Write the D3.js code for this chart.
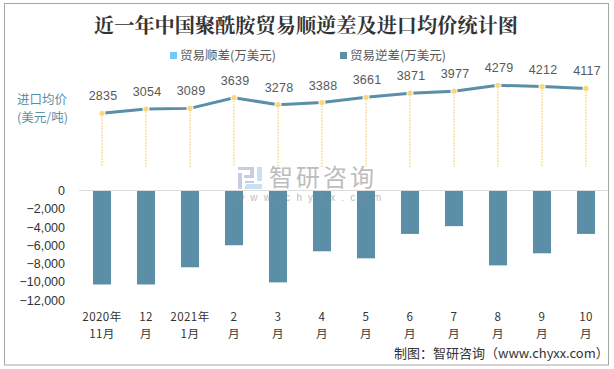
<!DOCTYPE html>
<html>
<head>
<meta charset="utf-8">
<script src="https://cdn.jsdelivr.net/npm/d3@7"></script>
<style>
body { margin: 0; background: #fff; }
text { font-family: "Noto Sans CJK SC", sans-serif; }
</style>
</head>
<body>
<svg></svg>
<script>
const months = ['2020年11月', '12月', '2021年1月', '2月', '3月', '4月', '5月', '6月', '7月', '8月', '9月', '10月'];
const monthLines = [['2020年', '11月'], ['12', '月'], ['2021年', '1月'], ['2', '月'], ['3', '月'], ['4', '月'], ['5', '月'], ['6', '月'], ['7', '月'], ['8', '月'], ['9', '月'], ['10', '月']];
const deficit = [-10280, -10280, -8400, -5990, -10050, -6650, -7420, -4750, -3900, -8190, -6870, -4750];
const price = [2835, 3054, 3089, 3639, 3278, 3388, 3661, 3871, 3977, 4279, 4212, 4117];
const barTicks = [0, -2000, -4000, -6000, -8000, -10000, -12000];

const Width = 614;
const Height = 369;
const lineColor = '#5b8fa8';
const dotColor = '#f9d77e';

const svg = d3.select('svg')
.attr('width', Width)
.attr('height', Height)
.style('display', 'block');

// Frame
svg.append('rect')
.attr('x', 4.5).attr('y', 3.5)
.attr('width', 604).attr('height', 361.5)
.attr('fill', '#fff')
.attr('stroke', '#a6a6a6');

//Create Scales
const xScale = d3.scaleBand().domain(months).range([80, 608]).paddingInner(0.59).paddingOuter(0.295);
const yBar = d3.scaleLinear().domain([-12000, 0]).range([300.2, 190.5]);
const yPrice = d3.scaleLinear().domain([2835, 4279]).range([113.3, 85.3]);
const center = (d) => xScale(d) + xScale.bandwidth() / 2;

//Draw Bars
svg.selectAll('.bar')
.data(deficit)
.enter()
.append('rect')
.classed('bar', true)
.attr('x', (d, i) => xScale(months[i]))
.attr('y', yBar(0))
.attr('width', xScale.bandwidth())
.attr('height', (d) => yBar(d) - yBar(0))
.attr('fill', lineColor);

// Zero line
svg.append('line')
.attr('x1', 79).attr('x2', 608)
.attr('y1', yBar(0)).attr('y2', yBar(0))
.attr('stroke', '#dcdcdc');

// Watermark, sits over the bars
const mark = svg.append('g');
mark.append('text').text('智研咨询')
.attr('x', 269).attr('y', 186)
.attr('font-size', 24).attr('letter-spacing', 3)
.attr('fill', '#bdbdbd');
mark.append('text').text('www.chyxx.com')
.attr('x', 237).attr('y', 201)
.attr('font-size', 10).attr('letter-spacing', 6.1)
.style('font-family', '"Liberation Sans"')
.attr('fill', '#8a8a8a')
.attr('fill-opacity', 0.6);
mark.append('path')
.attr('d', 'M238 167h16v11h-10v-3h6v-5h-12z M238 173h4v16h-4z M245 181h9v2h-9z M245 186h9v3h-9z')
.attr('fill', '#c6cde2');
mark.append('path')
.attr('d', 'M257 167h5v13h-5z M246 184h16v-3h-5v-1h5v9h-16z')
.attr('fill', '#c6e2f4');

//Draw Y-axis labels
const yAxis = svg.append('g')
.attr('transform', 'translate(65, 0)')
.call(d3.axisLeft(yBar).tickValues(barTicks).tickSize(0).tickPadding(0).tickFormat(d3.format(',')));
yAxis.select('.domain').remove();
yAxis.selectAll('text')
.attr('font-size', 12.5)
.attr('fill', '#333')
.style('font-family', '"Liberation Sans"');

//Draw X-axis labels
const xLabels = svg.selectAll('.month')
.data(monthLines)
.enter()
.append('text')
.classed('month', true)
.attr('text-anchor', 'middle')
.attr('font-size', 11.6)
.attr('letter-spacing', 0.4)
.attr('fill', '#333');
xLabels.append('tspan')
.attr('x', (d, i) => center(months[i]))
.attr('y', 321)
.text((d) => d[0]);
xLabels.append('tspan')
.attr('x', (d, i) => center(months[i]))
.attr('y', 338)
.text((d) => d[1]);

//Draw price line
const line = d3.line()
.x((d, i) => center(months[i]))
.y((d) => yPrice(d));
svg.append('path')
.datum(price)
.attr('d', line)
.attr('fill', 'none')
.attr('stroke', lineColor)
.attr('stroke-width', 3);

// Drop lines
svg.selectAll('.drop')
.data(price)
.enter()
.append('line')
.classed('drop', true)
.attr('x1', (d, i) => center(months[i]))
.attr('x2', (d, i) => center(months[i]))
.attr('y1', (d) => yPrice(d))
.attr('y2', 167)
.attr('stroke', dotColor)
.attr('stroke-width', 1.5)
.attr('stroke-dasharray', '1.5 1.5');

// Markers
svg.selectAll('.dot')
.data(price)
.enter()
.append('circle')
.classed('dot', true)
.attr('cx', (d, i) => center(months[i]))
.attr('cy', (d) => yPrice(d))
.attr('r', 2.6)
.attr('fill', dotColor)
.attr('stroke', '#fff')
.attr('stroke-width', 1.8)
.attr('paint-order', 'stroke');

// Price labels
svg.selectAll('.label')
.data(price)
.enter()
.append('text')
.classed('label', true)
.text((d) => d)
.attr('x', (d, i) => center(months[i]) + 1)
.attr('y', (d) => yPrice(d) - 13)
.attr('text-anchor', 'middle')
.attr('font-size', 12.5)
.attr('letter-spacing', 0.2)
.attr('fill', '#595959')
.style('font-family', '"Liberation Sans"');

// Title
svg.append('text')
.text('近一年中国聚酰胺贸易顺逆差及进口均价统计图')
.attr('x', 306)
.attr('y', 33)
.attr('text-anchor', 'middle')
.attr('font-size', 20.2)
.attr('font-weight', 'bold')
.attr('fill', '#333')
.style('font-family', '"Noto Serif CJK SC", "Noto Sans CJK SC", serif');

// Legend
const legendNames = ['贸易顺差(万美元)', '贸易逆差(万美元)'];
const legendColors = ['#6fcdf5', lineColor];
const legendX = [170, 340];
legendNames.forEach((name, i) => {
  svg.append('rect')
  .attr('x', legendX[i]).attr('y', 52)
  .attr('width', 7).attr('height', 7)
  .attr('fill', legendColors[i]);
  svg.append('text')
  .text(name)
  .attr('x', legendX[i] + 10)
  .attr('y', 60)
  .attr('font-size', 12.5)
  .attr('fill', '#595959');
});

// Left side caption
svg.append('text').text('进口均价')
.attr('x', 17).attr('y', 104)
.attr('font-size', 12.5).attr('fill', lineColor);
svg.append('text').text('(美元/吨)')
.attr('x', 17).attr('y', 122)
.attr('font-size', 12.5).attr('fill', lineColor);

// Source
svg.append('text').text('制图：智研咨询（www.chyxx.com）')
.attr('x', 394)
.attr('y', 358)
.attr('font-size', 13)
.attr('fill', '#333');
</script>
</body>
</html>
